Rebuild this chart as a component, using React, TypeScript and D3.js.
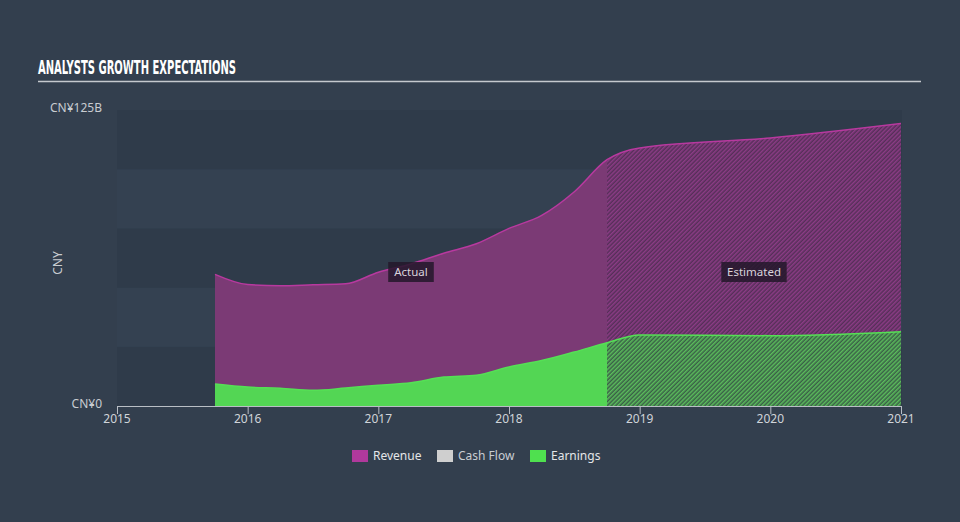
import React from "react";
import * as d3 from "d3";

const years = [2015.75, 2016.0, 2016.25, 2016.5, 2016.75, 2017.0, 2017.25, 2017.5, 2017.75, 2018.0, 2018.25, 2018.5, 2018.75, 2019.0, 2020.0, 2021.0];
const revenue = [55.6, 51.3, 50.8, 51.2, 51.6, 56.5, 60.0, 64.5, 68.5, 75.0, 80.5, 90.5, 104.0, 109.0, 113.2, 119.3];
const earnings = [9.3, 8.0, 7.5, 6.6, 7.6, 8.8, 9.8, 12.2, 13.0, 16.5, 19.2, 22.8, 26.7, 30.0, 29.7, 31.4];
const xTicks = [2015, 2016, 2017, 2018, 2019, 2020, 2021];
const bandEdges = [0, 25, 50, 75, 100, 125];
const actualEnd = 2018.75;
const legendItems = [
  { name: "Revenue", color: "#b0399c" },
  { name: "Cash Flow", color: "#cfcfcf" },
  { name: "Earnings", color: "#4fe04f" },
];

const W = 960, H = 522;
const L = 117, R = 902, T = 110, B = 406;
const FONT = "'Noto Sans', 'DejaVu Sans', sans-serif";

export default function App() {
  const x = d3.scaleLinear().domain([2015, 2021]).range([L, R - 1]);
  const y = d3.scaleLinear().domain([0, 125]).range([B, T]);
  const revPts = years.map((t, i) => [t, revenue[i]] as [number, number]);
  const earnPts = years.map((t, i) => [t, earnings[i]] as [number, number]);
  const area = d3.area<[number, number]>().x(d => x(d[0])).y0(y(0)).y1(d => y(d[1])).curve(d3.curveMonotoneX);
  const line = d3.line<[number, number]>().x(d => x(d[0])).y(d => y(d[1])).curve(d3.curveMonotoneX);
  const xb = x(actualEnd);
  const x0 = x(years[0]);
  const xEnd = x(years[years.length - 1]);
  const labelY = 272;

  return (
    <svg width={W} height={H} style={{ display: "block", position: "absolute", left: 0, top: 0 }}>
      <defs>
        <pattern id="hatchR" width="3" height="3" patternUnits="userSpaceOnUse" patternTransform="rotate(45)">
          <rect width="3" height="3" fill="#552f58" />
          <rect width="1.5" height="3" fill="#8c3c86" />
        </pattern>
        <pattern id="hatchE" width="3" height="3" patternUnits="userSpaceOnUse" patternTransform="rotate(45)">
          <rect width="3" height="3" fill="#3a5f47" />
          <rect width="1.5" height="3" fill="#5bbd5c" />
        </pattern>
        <clipPath id="clipA"><rect x={0} y={0} width={xb} height={H} /></clipPath>
        <clipPath id="clipE"><rect x={xb} y={0} width={W - xb} height={H} /></clipPath>
      </defs>
      <rect width={W} height={H} fill="#333f4e" />
      {bandEdges.slice(0, -1).map((v, i) => (
        <rect key={i} x={L} width={R - L} y={y(bandEdges[i + 1])} height={y(v) - y(bandEdges[i + 1])}
          fill={i % 2 === 0 ? "#2f3b4a" : "#344151"} />
      ))}
      <text x={38} y={74} fill="#ffffff" fontFamily="'DejaVu Sans Condensed', 'DejaVu Sans', sans-serif" fontWeight="bold"
        fontSize={19} textLength={198} lengthAdjust="spacingAndGlyphs">ANALYSTS GROWTH EXPECTATIONS</text>
      <line x1={38} x2={921} y1={81.5} y2={81.5} stroke="#c5c9ce" strokeWidth={1.5} />

      <g clipPath="url(#clipA)">
        <path d={area(revPts) || ""} fill="#7b3a75" />
        <path d={area(earnPts) || ""} fill="#53d654" />
      </g>
      <g clipPath="url(#clipE)">
        <path d={area(revPts) || ""} fill="url(#hatchR)" />
        <path d={area(earnPts) || ""} fill="url(#hatchE)" />
      </g>
      <path d={line(revPts) || ""} fill="none" stroke="#b8399f" strokeWidth={1.5} />
      <path d={line(earnPts) || ""} fill="none" stroke="#55e055" strokeWidth={1.5} />

      {[{ t: "Actual", cx: (x0 + xb) / 2 }, { t: "Estimated", cx: (xb + xEnd) / 2 }].map(l => {
        const w = l.t.length * 6.6 + 6;
        return (
          <g key={l.t}>
            <rect x={l.cx - w / 2} y={labelY - 10} width={w} height={20} fill="#23182a" fillOpacity={0.85} />
            <text x={l.cx} y={labelY + 4} textAnchor="middle" fill="#d9d3dc" fontFamily={FONT} fontSize={11.5}>{l.t}</text>
          </g>
        );
      })}

      <line x1={L} x2={R} y1={B + 0.5} y2={B + 0.5} stroke="#b9bec5" strokeWidth={1} />
      {xTicks.map(t => (
        <g key={t}>
          <line x1={x(t) + 0.5} x2={x(t) + 0.5} y1={B} y2={B + 8} stroke="#b9bec5" />
          <text x={x(t)} y={423} textAnchor="middle" fill="#d0d4d9" fontFamily={FONT} fontSize={12}>{t}</text>
        </g>
      ))}
      <text x={102} y={112} textAnchor="end" fill="#c8ccd1" fontFamily={FONT} fontSize={12}>CN¥125B</text>
      <text x={102} y={408} textAnchor="end" fill="#c8ccd1" fontFamily={FONT} fontSize={12}>CN¥0</text>
      <text transform="translate(62,263) rotate(-90)" textAnchor="middle" fill="#c8ccd1" fontFamily={FONT} fontSize={12}>CNY</text>

      {(() => {
        const starts = [352, 437, 530];
        return legendItems.map((it, i) => (
          <g key={it.name}>
            <rect x={starts[i]} y={450} width={16} height={12} fill={it.color} />
            <text x={starts[i] + 21} y={460} fill={it.name === "Cash Flow" ? "#c9cdd2" : "#e4e6e8"} fontFamily={FONT} fontSize={12}>{it.name}</text>
          </g>
        ));
      })()}
    </svg>
  );
}
